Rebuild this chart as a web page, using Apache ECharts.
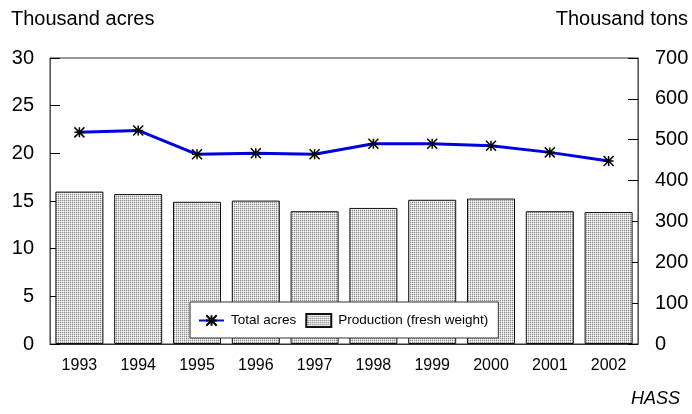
<!DOCTYPE html>
<html><head><meta charset="utf-8">
<script src="https://cdn.jsdelivr.net/npm/echarts@6/dist/echarts.min.js"></script>
<style>html,body{margin:0;padding:0;background:#fff}#c{width:692px;height:414px}</style>
</head><body><div id="c"></div>
<script>
var years = ['1993','1994','1995','1996','1997','1998','1999','2000','2001','2002'];
var totalAcres = [22.2, 22.4, 19.9, 20.0, 19.9, 21.0, 21.0, 20.8, 20.1, 19.2];
var production = [373, 367, 348, 351, 325, 333, 353, 356, 325, 323];
var leftTicks = [0, 30, 5];
var rightTicks = [0, 700, 100];

var cv = document.createElement('canvas');
cv.width = 4; cv.height = 4;
var cx = cv.getContext('2d');
var D = '#8c8c8c', L = '#d6d6d6', W = '#ffffff';
var tile = [[D,L,D,L],[L,W,L,W],[D,L,D,L],[L,W,L,W]];
for (var r = 0; r < 4; r++) for (var c = 0; c < 4; c++) { cx.fillStyle = tile[r][c]; cx.fillRect(c, r, 1, 1); }
var pattern = {image: cv, repeat: 'repeat'};

var FONT = 'Liberation Sans, Arial, sans-serif';
var chart = echarts.init(document.getElementById('c'), null, {renderer: 'canvas'});
chart.setOption({
  animation: false,
  backgroundColor: '#fff',
  grid: {left: 50, right: 54, top: 58, bottom: 70, show: true, borderColor: '#333', borderWidth: 1},
  graphic: [
    {type: 'text', left: 11, top: 9, style: {text: 'Thousand acres', font: '20px ' + FONT, fill: '#000'}},
    {type: 'text', right: 4, top: 9, style: {text: 'Thousand tons', font: '20px ' + FONT, fill: '#000'}},
    {type: 'text', right: 12, top: 390, style: {text: 'HASS', font: 'italic 18px ' + FONT, fill: '#000'}}
  ],
  legend: {
    left: 190, top: 302, orient: 'horizontal',
    backgroundColor: '#fff', borderColor: '#333', borderWidth: 1,
    padding: [11, 10, 10, 8], itemGap: 9, itemWidth: 25, itemHeight: 13,
    textStyle: {fontSize: 13.5, fontFamily: FONT, color: '#000', padding: [0,0,0,2]},
    data: [{name: 'Total acres'}, {name: 'Production (fresh weight)', icon: 'rect'}]
  },
  xAxis: {
    type: 'category', data: years,
    axisLine: {lineStyle: {color: '#333'}},
    axisTick: {show: true, inside: true, length: 12, alignWithLabel: true, lineStyle: {color: '#eee48a'}},
    axisLabel: {fontSize: 16, fontFamily: FONT, color: '#000', margin: 14}
  },
  yAxis: [
    {type: 'value', min: leftTicks[0], max: leftTicks[1], interval: leftTicks[2], position: 'left',
     axisLine: {show: true, lineStyle: {color: '#555'}},
     axisTick: {show: true, inside: true, length: 10, lineStyle: {color: '#000'}},
     splitLine: {show: false},
     axisLabel: {fontSize: 20, fontFamily: FONT, color: '#000', margin: 16}},
    {type: 'value', min: rightTicks[0], max: rightTicks[1], interval: rightTicks[2], position: 'right',
     axisLine: {show: true, lineStyle: {color: '#555'}},
     axisTick: {show: true, inside: true, length: 10, lineStyle: {color: '#000'}},
     splitLine: {show: false},
     axisLabel: {fontSize: 20, fontFamily: FONT, color: '#000', margin: 17}}
  ],
  series: [
    {name: 'Production (fresh weight)', type: 'bar', yAxisIndex: 1, data: production, barWidth: 48,
     itemStyle: {color: pattern, borderColor: '#111', borderWidth: 1}},
    {name: 'Total acres', type: 'line', yAxisIndex: 0, data: totalAcres, z: 5,
     lineStyle: {color: '#0000dd', width: 3},
     symbol: 'path://M0,0 L10,10 M10,0 L0,10 M5,0 L5,10 M0,5 L10,5', symbolSize: 10,
     itemStyle: {color: '#0000dd', borderColor: '#000', borderWidth: 1.5}}
  ]
});
</script></body></html>
